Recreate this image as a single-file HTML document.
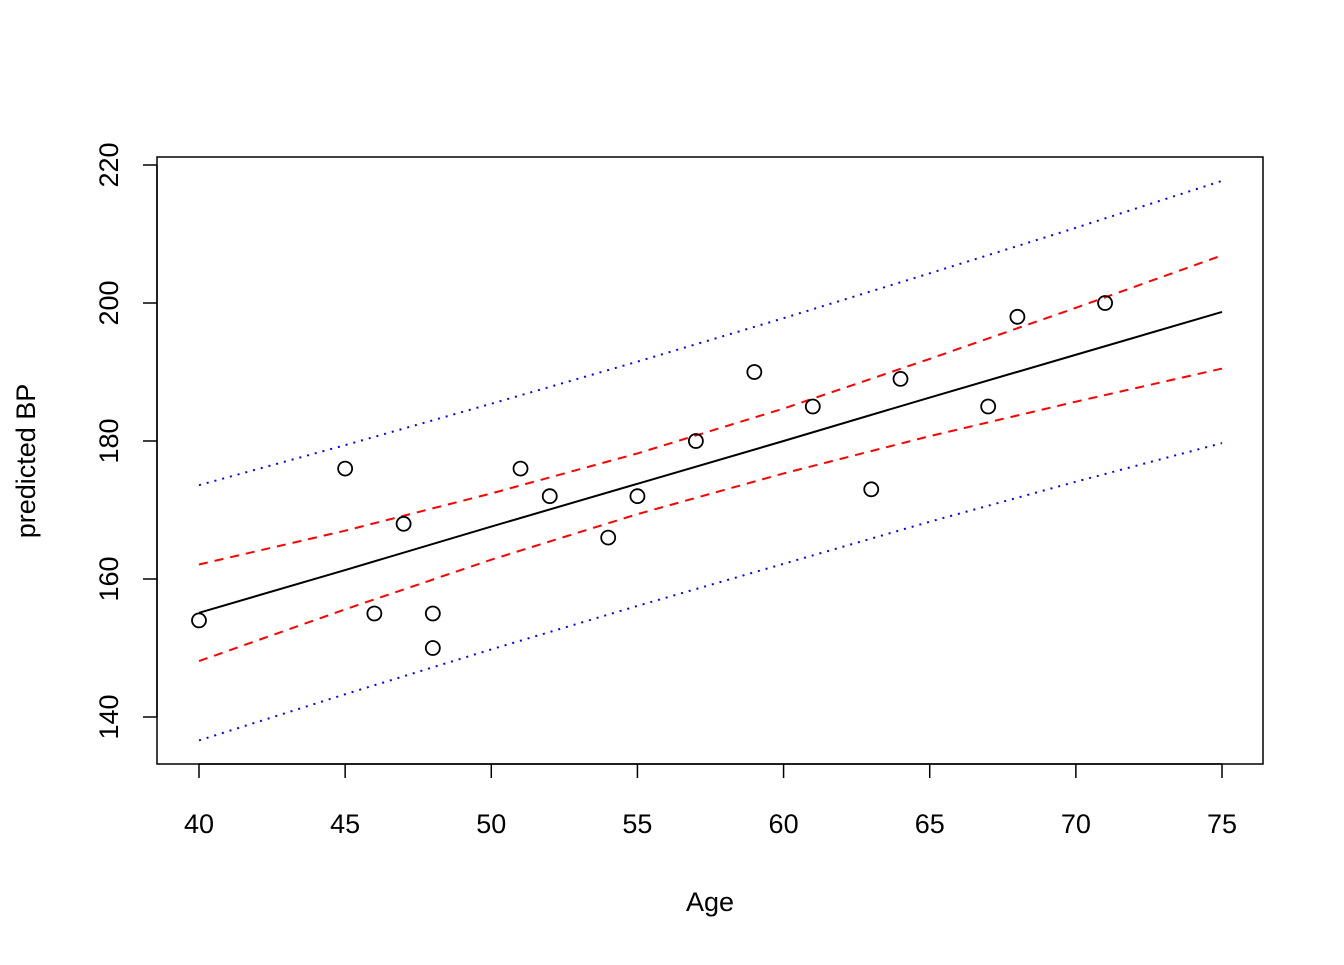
<!DOCTYPE html>
<html><head><meta charset="utf-8"><style>
html,body{margin:0;padding:0;background:#fff;}
svg text{font-family:"Liberation Sans",Arial,sans-serif;fill:#000;}
</style></head><body>
<svg id="chart" width="1344" height="960" viewBox="0 0 1344 960" xmlns="http://www.w3.org/2000/svg">
<rect x="0" y="0" width="1344" height="960" fill="#fff"/>
<g id="axes"></g>
<g id="marks"></g>
<text x="710" y="911" font-size="27" text-anchor="middle">Age</text>
<text x="28" y="461" font-size="27" text-anchor="middle" transform="rotate(-90 28 461)" dominant-baseline="middle">predicted BP</text>
</svg>
<script>
const ages = [40,45,46,47,48,48,51,52,54,55,57,59,61,63,64,67,68,71];
const bp = [154,176,155,168,155,150,176,172,166,172,180,190,185,173,189,185,198,200];
const gridX = [40,45,50,55,60,65,70,75];
const fitY = [155.1,161.3,167.6,173.8,180.0,186.3,192.5,198.7];
const confLower = [148.1,155.6,162.8,169.4,175.3,180.7,185.7,190.5];
const confUpper = [162.1,167.0,172.4,178.2,184.7,191.9,199.3,206.9];
const predLower = [136.6,143.3,149.8,156.1,162.2,168.3,174.1,179.7];
const predUpper = [173.6,179.4,185.4,191.5,197.8,204.3,210.9,217.7];
const xTicks = [40,45,50,55,60,65,70,75];
const yTicks = [140,160,180,200,220];

const NS = "http://www.w3.org/2000/svg";
const sx = v => 199 + (v-40)*(1023/35);
const sy = v => 717 - (v-140)*(552/80);
const axes = document.getElementById('axes');
const marks = document.getElementById('marks');
function mk(tag, attrs, parent){const e=document.createElementNS(NS,tag);for(const k in attrs)e.setAttribute(k,attrs[k]);parent.appendChild(e);return e;}

const box = mk('rect',{x:157,y:157,width:1106,height:607,fill:'none',stroke:'#000','stroke-width':1.5},axes);


const xl = mk('line',{x1:sx(xTicks[0]),x2:sx(xTicks[xTicks.length-1]),y1:764,y2:764,stroke:'#000','stroke-width':1.5},axes);


xTicks.forEach(t=>{
  const l=mk('line',{x1:sx(t),x2:sx(t),y1:764,y2:778,stroke:'#000','stroke-width':1.5},axes);
  
  
  const tx=mk('text',{x:sx(t),y:833,'font-size':27,'text-anchor':'middle'},axes);
  tx.textContent=t;
  
  
});
const yl = mk('line',{x1:157,x2:157,y1:sy(yTicks[0]),y2:sy(yTicks[yTicks.length-1]),stroke:'#000','stroke-width':1.5},axes);


yTicks.forEach(t=>{
  const y=sy(t);
  const l=mk('line',{x1:143,x2:157,y1:y,y2:y,stroke:'#000','stroke-width':1.5},axes);
  
  
  const tx=mk('text',{x:111,y:y,'font-size':27,'text-anchor':'middle','dominant-baseline':'middle',transform:`rotate(-90 111 ${y})`},axes);
  tx.textContent=t;
  
  
});

function line(vals, color, dash, name){
  const pts = gridX.map((x,i)=>sx(x)+','+sy(vals[i])).join(' ');
  const p = mk('polyline',{points:pts,fill:'none',stroke:color,'stroke-width':2},marks);
  if(dash) p.setAttribute('stroke-dasharray',dash);
  
  
}
line(fitY,'#000',null,'fit-line');
line(confLower,'#ff0000','9 7','confidence-lower');
line(confUpper,'#ff0000','9 7','confidence-upper');
line(predLower,'#0000ff','2 6','prediction-lower');
line(predUpper,'#0000ff','2 6','prediction-upper');

ages.forEach((a,i)=>{
  const c=mk('circle',{cx:sx(a),cy:sy(bp[i]),r:7,fill:'none',stroke:'#000','stroke-width':1.8},marks);
  
  
});
</script>
</body></html>
